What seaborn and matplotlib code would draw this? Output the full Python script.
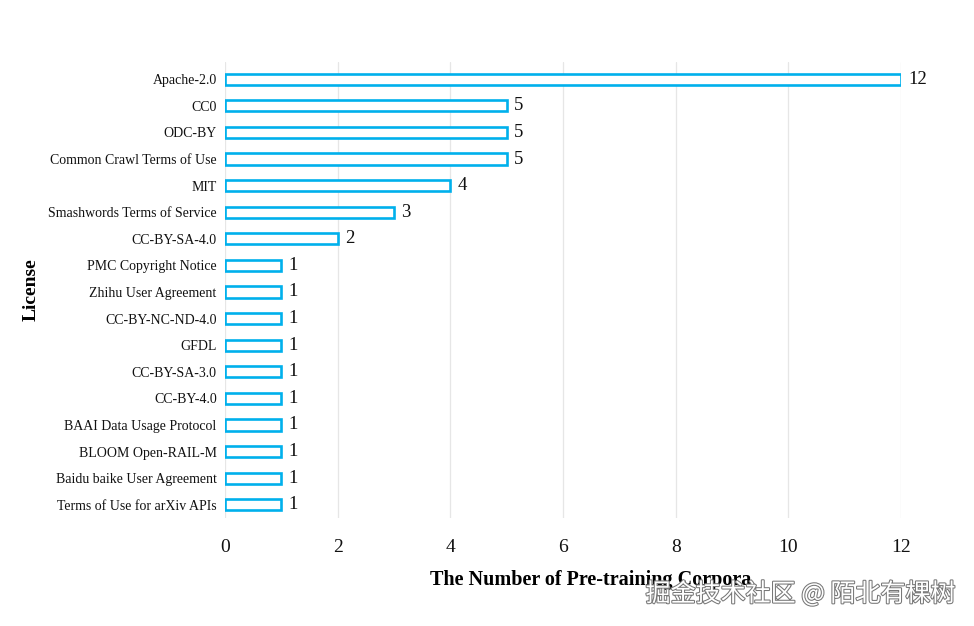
import matplotlib
matplotlib.use('Agg')
import matplotlib.pyplot as plt
import matplotlib.patheffects as pe
import pandas as pd
import seaborn as sns

licenses = ['Apache-2.0', 'CC0', 'ODC-BY', 'Common Crawl Terms of Use', 'MIT',
            'Smashwords Terms of Service', 'CC-BY-SA-4.0', 'PMC Copyright Notice',
            'Zhihu User Agreement', 'CC-BY-NC-ND-4.0', 'GFDL', 'CC-BY-SA-3.0',
            'CC-BY-4.0', 'BAAI Data Usage Protocol', 'BLOOM Open-RAIL-M',
            'Baidu baike User Agreement', 'Terms of Use for arXiv APIs']
counts = [12, 5, 5, 5, 4, 3, 2, 1, 1, 1, 1, 1, 1, 1, 1, 1, 1]
xticks = [0, 2, 4, 6, 8, 10, 12]

df = pd.DataFrame({'License': licenses, 'Count': counts})

sns.set_theme(style='white')
plt.rcParams['font.family'] = ['Liberation Serif', 'DejaVu Serif']

fig = plt.figure(figsize=(9.74, 6.26), dpi=100)
ax = fig.add_axes([225 / 974, 1 - 518 / 626, 676 / 974, 456 / 626])

sns.barplot(data=df, y='License', x='Count', orient='h', ax=ax,
            color='white', edgecolor='#00b0ec', linewidth=1.9, width=0.42)

for i, v in enumerate(counts):
    ax.text(v + 0.13, i, str(v), va='center', ha='left', fontsize=13.5, color='#111111')

ax.set_xlim(0, 12)
ax.set_ylim(len(licenses) - 0.5, -0.65)
ax.set_xticks(xticks)
ax.xaxis.grid(True, color='#e6e6e6', linewidth=0.9)
ax.set_axisbelow(True)
for s in ax.spines.values():
    s.set_visible(False)
ax.tick_params(axis='x', length=0, pad=15, labelsize=14, labelcolor='#111111')
ax.tick_params(axis='y', length=0, pad=6, labelsize=10, labelcolor='#111111')

ax.set_xlabel('The Number of Pre-training Corpora', fontsize=14.5, fontweight='bold',
              color='black', labelpad=8)
ax.xaxis.set_label_coords(0.541, -0.115)
ax.set_ylabel('License', fontsize=14, fontweight='bold', color='black', labelpad=6)

fig.text(0.981, 0.051, '掘金技术社区 @ 陌北有棵树', ha='right', va='center',
         fontsize=18, color='white', family=['Noto Sans CJK SC', 'DejaVu Sans'],
         path_effects=[pe.withStroke(linewidth=1.5, foreground='#777777')])

fig.savefig('out.png', dpi=100, facecolor='white')
